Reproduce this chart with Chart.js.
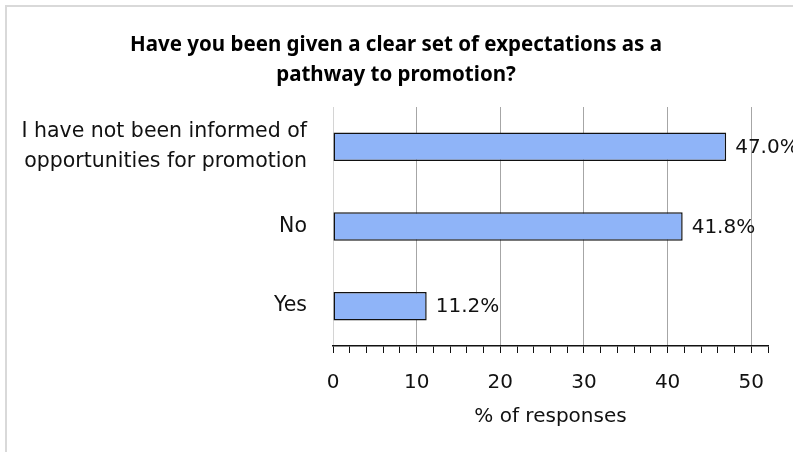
<!DOCTYPE html>
<html>
<head>
<meta charset="utf-8">
<script src="https://cdn.jsdelivr.net/npm/chart.js@4/dist/chart.umd.min.js"></script>
<style>
  html, body { margin: 0; padding: 0; background: #fff; }
  #wrap { width: 793px; height: 452px; position: relative; }
</style>
</head>
<body>
<div id="wrap"><canvas id="c" width="793" height="452"></canvas></div>
<script>
// Survey answers, listed top to bottom
const categories = [
  ["I have not been informed of", "opportunities for promotion"],
  "No",
  "Yes"
];
const responsePct = [47.0, 41.8, 11.2];
const titleLines = ["Have you been given a clear set of expectations as a", "pathway to promotion?"];
const axisTitle = "% of responses";
const axisMax = 52;

const FONT = "'DejaVu Sans', sans-serif";
const TITLE_FONT = "'Noto Sans', 'Open Sans', sans-serif";
const TEXT = "#111";

// Light frame around the whole chart
const framePlugin = {
  id: "frame",
  beforeDraw(chart) {
    const ctx = chart.ctx;
    ctx.save();
    ctx.fillStyle = "#fff";
    ctx.fillRect(0, 0, chart.width, chart.height);
    ctx.strokeStyle = "#d9d9d9";
    ctx.lineWidth = 2;
    ctx.beginPath();
    ctx.moveTo(6, chart.height);
    ctx.lineTo(6, 6);
    ctx.lineTo(chart.width, 6);
    ctx.stroke();
    ctx.restore();
  }
};

// Two-line bold heading, centred on the canvas
const headingPlugin = {
  id: "heading",
  afterDraw(chart) {
    const ctx = chart.ctx;
    ctx.save();
    ctx.font = "bold 20.5px " + TITLE_FONT;
    ctx.fillStyle = "#000";
    ctx.textAlign = "center";
    ctx.textBaseline = "middle";
    titleLines.forEach((line, i) => ctx.fillText(line, 396, 45 + i * 30));
    ctx.restore();
  }
};

// Percent labels to the right of each bar
const valueLabels = {
  id: "valueLabels",
  afterDatasetsDraw(chart) {
    const ctx = chart.ctx;
    const meta = chart.getDatasetMeta(0);
    ctx.save();
    ctx.font = "20px " + FONT;
    ctx.fillStyle = TEXT;
    ctx.textAlign = "left";
    ctx.textBaseline = "middle";
    meta.data.forEach((bar, i) => {
      ctx.fillText(responsePct[i].toFixed(1) + "%", bar.x + 9, bar.y + 1);
    });
    ctx.restore();
  }
};

new Chart(document.getElementById("c"), {
  type: "bar",
  data: {
    labels: categories,
    datasets: [{
      data: responsePct,
      backgroundColor: "#8fb4f8",
      borderColor: "#111",
      borderWidth: 1.5,
      borderSkipped: false,
      categoryPercentage: 1,
      barPercentage: 0.358
    }]
  },
  options: {
    indexAxis: "y",
    responsive: false,
    animation: false,
    layout: { padding: { left: 0, right: 25, top: 107, bottom: 23 } },
    plugins: {
      legend: { display: false },
      tooltip: { enabled: false },
      title: { display: false }
    },
    scales: {
      x: {
        min: 0,
        max: axisMax,
        ticks: {
          stepSize: 2,
          autoSkip: false,
          maxRotation: 0,
          color: TEXT,
          font: { family: FONT, size: 20 },
          padding: 18,
          callback: v => (v % 10 === 0 ? v : "")
        },
        grid: {
          drawTicks: true,
          tickLength: 7,
          lineWidth: 1,
          color: c => {
            if (!c.tick) return "rgba(0,0,0,0)";
            const v = c.tick.value;
            if (v === 0) return "#d4d4d4";
            return v % 10 === 0 && v <= 50 ? "#a6a6a6" : "rgba(0,0,0,0)";
          },
          tickColor: "#111"
        },
        border: { display: true, color: "#111", width: 1.5 },
        title: {
          display: true,
          text: axisTitle,
          color: TEXT,
          font: { family: FONT, size: 20 },
          padding: { top: 4, bottom: 0 }
        },
        afterFit(scale) { scale.height = 83; }
      },
      y: {
        ticks: {
          color: TEXT,
          font: { family: FONT, size: 20.5, lineHeight: 1.46 },
          padding: 18
        },
        grid: { display: false },
        border: { display: false },
        afterFit(scale) { scale.width = 333; }
      }
    }
  },
  plugins: [framePlugin, headingPlugin, valueLabels]
});
</script>
</body>
</html>
